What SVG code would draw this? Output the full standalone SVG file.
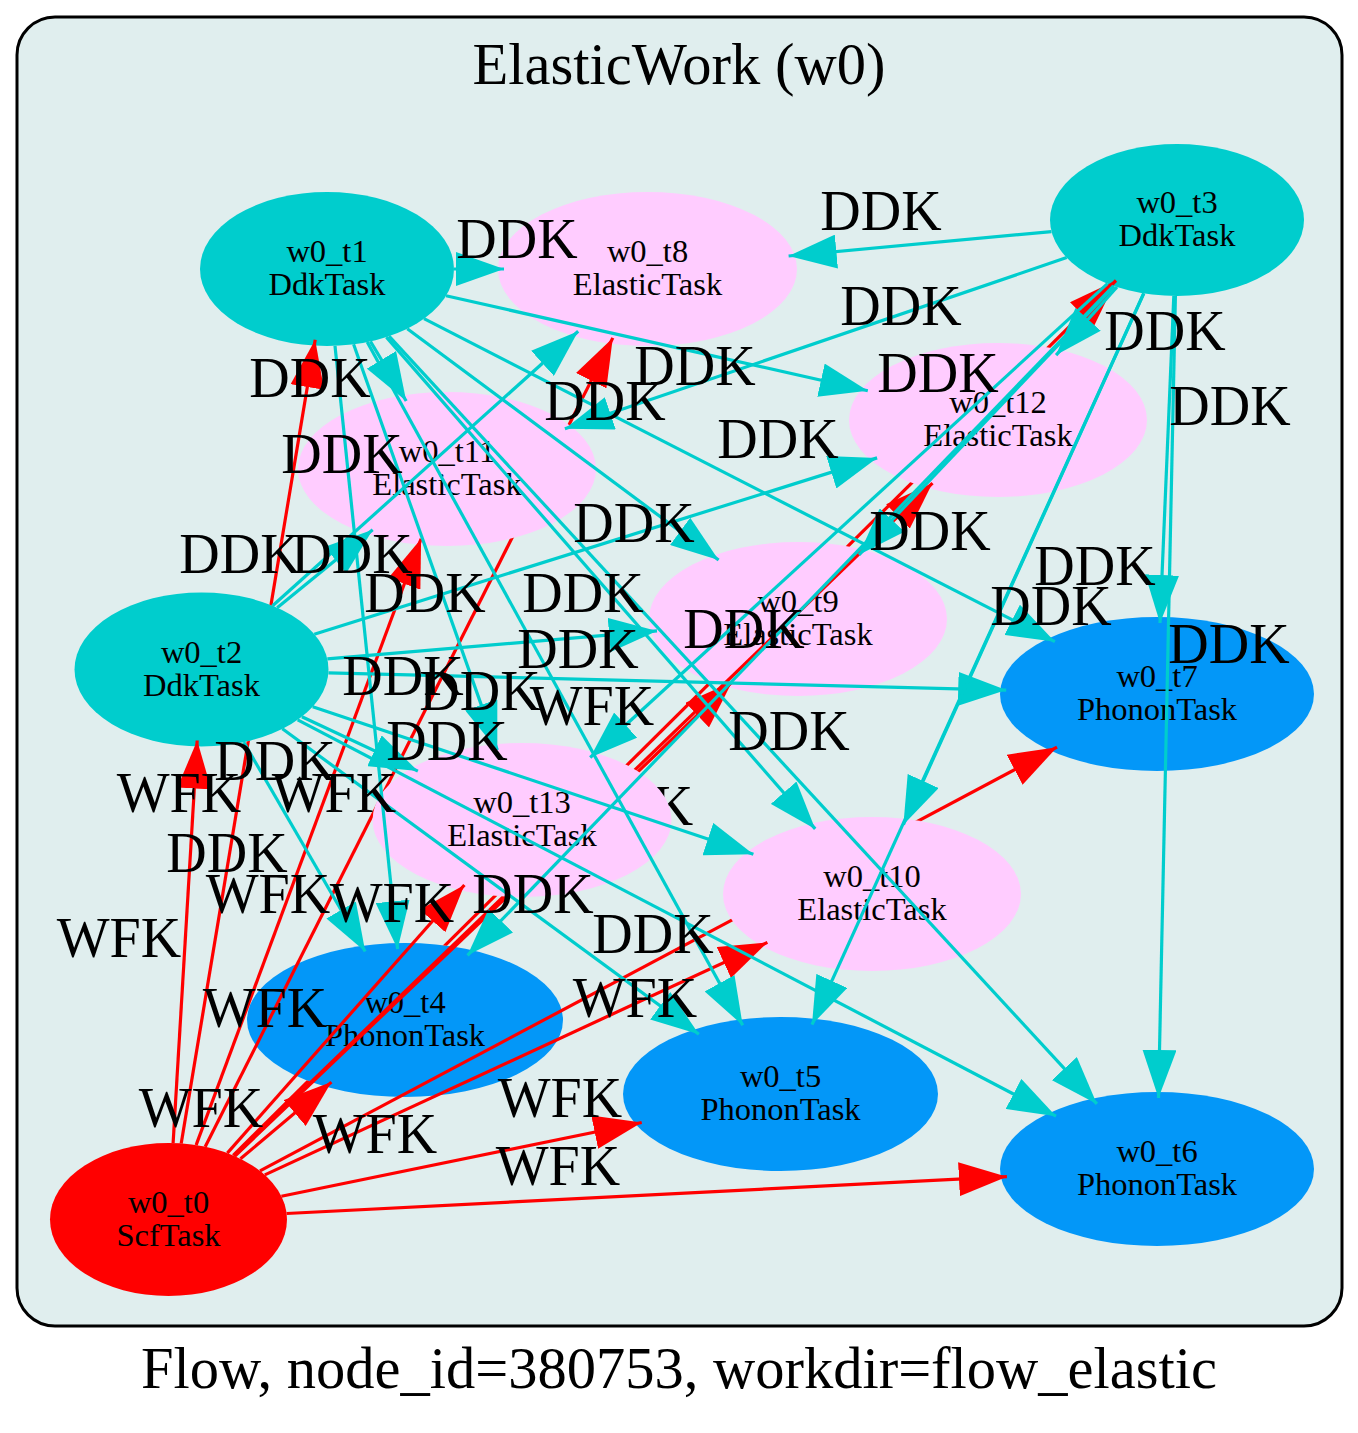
<svg xmlns="http://www.w3.org/2000/svg" width="1358" height="1433" viewBox="0 0 1358 1433">
<style>
.nt{font-family:"Liberation Serif","Times New Roman",serif;font-size:32.5px;text-anchor:middle;fill:#000}
.lb{font-family:"Liberation Serif","Times New Roman",serif;font-size:56px;text-anchor:middle;fill:#000}
.tt{font-family:"Liberation Serif","Times New Roman",serif;font-size:58.5px;text-anchor:middle;fill:#000}
.wfk line{stroke:#ff0000;stroke-width:3.2;marker-end:url(#ar)}
.ddk line{stroke:#00cdcd;stroke-width:3.2;marker-end:url(#ac)}
.ddkT{fill:#00cdcd}.phon{fill:#0397f8}.elas{fill:#ffccff}.scf{fill:#ff0000}
</style>
<defs>
<marker id="ar" viewBox="0 0 48 34" refX="48" refY="17" markerWidth="48" markerHeight="34" markerUnits="userSpaceOnUse" orient="auto"><path d="M0,0L48,17L0,34z" fill="#ff0000"/></marker>
<marker id="ac" viewBox="0 0 48 34" refX="48" refY="17" markerWidth="48" markerHeight="34" markerUnits="userSpaceOnUse" orient="auto"><path d="M0,0L48,17L0,34z" fill="#00cdcd"/></marker>
<g id="h13"><ellipse cx="522" cy="820" rx="149.5" ry="77"/></g>
<g id="h12"><ellipse cx="998" cy="420" rx="149" ry="77"/><use href="#h13"/></g>
<g id="h11"><ellipse cx="447" cy="469" rx="149" ry="77"/><use href="#h12"/></g>
<g id="h10"><ellipse cx="872" cy="894" rx="149" ry="77"/><use href="#h11"/></g>
<g id="h9"><ellipse cx="798" cy="619" rx="149" ry="77"/><use href="#h10"/></g>
<g id="h8"><ellipse cx="647.5" cy="269" rx="149.5" ry="77"/><use href="#h9"/></g>
<g id="h7"><ellipse cx="1157" cy="694" rx="157" ry="77"/><use href="#h8"/></g>
<g id="h6"><ellipse cx="1157" cy="1169" rx="157" ry="77"/><use href="#h7"/></g>
<g id="h5"><ellipse cx="780.5" cy="1094" rx="157.5" ry="77"/><use href="#h6"/></g>
<g id="h4"><ellipse cx="405" cy="1020" rx="158" ry="77"/><use href="#h5"/></g>
<g id="h3"><ellipse cx="1177" cy="220" rx="127" ry="76"/><use href="#h4"/></g>
<g id="h2"><ellipse cx="201.5" cy="669.5" rx="127" ry="77"/><use href="#h3"/></g>
<mask id="m2" maskUnits="userSpaceOnUse" x="0" y="0" width="1358" height="1433"><rect width="1358" height="1433" fill="#fff"/><use href="#h2" fill="#000"/></mask>
<mask id="m3" maskUnits="userSpaceOnUse" x="0" y="0" width="1358" height="1433"><rect width="1358" height="1433" fill="#fff"/><use href="#h3" fill="#000"/></mask>
<mask id="m4" maskUnits="userSpaceOnUse" x="0" y="0" width="1358" height="1433"><rect width="1358" height="1433" fill="#fff"/><use href="#h4" fill="#000"/></mask>
<mask id="m5" maskUnits="userSpaceOnUse" x="0" y="0" width="1358" height="1433"><rect width="1358" height="1433" fill="#fff"/><use href="#h5" fill="#000"/></mask>
<mask id="m6" maskUnits="userSpaceOnUse" x="0" y="0" width="1358" height="1433"><rect width="1358" height="1433" fill="#fff"/><use href="#h6" fill="#000"/></mask>
<mask id="m7" maskUnits="userSpaceOnUse" x="0" y="0" width="1358" height="1433"><rect width="1358" height="1433" fill="#fff"/><use href="#h7" fill="#000"/></mask>
<mask id="m8" maskUnits="userSpaceOnUse" x="0" y="0" width="1358" height="1433"><rect width="1358" height="1433" fill="#fff"/><use href="#h8" fill="#000"/></mask>
<mask id="m9" maskUnits="userSpaceOnUse" x="0" y="0" width="1358" height="1433"><rect width="1358" height="1433" fill="#fff"/><use href="#h9" fill="#000"/></mask>
<mask id="m10" maskUnits="userSpaceOnUse" x="0" y="0" width="1358" height="1433"><rect width="1358" height="1433" fill="#fff"/><use href="#h10" fill="#000"/></mask>
<mask id="m11" maskUnits="userSpaceOnUse" x="0" y="0" width="1358" height="1433"><rect width="1358" height="1433" fill="#fff"/><use href="#h11" fill="#000"/></mask>
<mask id="m12" maskUnits="userSpaceOnUse" x="0" y="0" width="1358" height="1433"><rect width="1358" height="1433" fill="#fff"/><use href="#h12" fill="#000"/></mask>
<mask id="m13" maskUnits="userSpaceOnUse" x="0" y="0" width="1358" height="1433"><rect width="1358" height="1433" fill="#fff"/><use href="#h13" fill="#000"/></mask>
</defs>
<rect width="1358" height="1433" fill="#fff"/>
<g id="cluster_w0">
<rect x="17" y="17" width="1325" height="1309" rx="38" ry="38" fill="#e0eeee" stroke="#000" stroke-width="3"/>
<text class="tt" x="679" y="84">ElasticWork (w0)</text>
</g>
<g id="w0_t0"><ellipse class="scf" cx="168.5" cy="1219.5" rx="118.5" ry="76.5"/><text class="nt" x="168.5" y="1212.5">w0_t0</text><text class="nt" x="168.5" y="1245.5">ScfTask</text></g>
<g id="w0_t1"><ellipse class="ddkT" cx="327" cy="269" rx="127" ry="77"/><text class="nt" x="327" y="262">w0_t1</text><text class="nt" x="327" y="295">DdkTask</text></g>
<g id="w0_t2"><ellipse class="ddkT" cx="201.5" cy="669.5" rx="127" ry="77"/><text class="nt" x="201.5" y="662.5">w0_t2</text><text class="nt" x="201.5" y="695.5">DdkTask</text></g>
<g id="w0_t3"><ellipse class="ddkT" cx="1177" cy="220" rx="127" ry="76"/><text class="nt" x="1177" y="213">w0_t3</text><text class="nt" x="1177" y="246">DdkTask</text></g>
<g id="w0_t4"><ellipse class="phon" cx="405" cy="1020" rx="158" ry="77"/><text class="nt" x="405" y="1013">w0_t4</text><text class="nt" x="405" y="1046">PhononTask</text></g>
<g id="w0_t5"><ellipse class="phon" cx="780.5" cy="1094" rx="157.5" ry="77"/><text class="nt" x="780.5" y="1087">w0_t5</text><text class="nt" x="780.5" y="1120">PhononTask</text></g>
<g id="w0_t6"><ellipse class="phon" cx="1157" cy="1169" rx="157" ry="77"/><text class="nt" x="1157" y="1162">w0_t6</text><text class="nt" x="1157" y="1195">PhononTask</text></g>
<g id="w0_t7"><ellipse class="phon" cx="1157" cy="694" rx="157" ry="77"/><text class="nt" x="1157" y="687">w0_t7</text><text class="nt" x="1157" y="720">PhononTask</text></g>
<g id="w0_t8"><ellipse class="elas" cx="647.5" cy="269" rx="149.5" ry="77"/><text class="nt" x="647.5" y="262">w0_t8</text><text class="nt" x="647.5" y="295">ElasticTask</text></g>
<g id="w0_t9"><ellipse class="elas" cx="798" cy="619" rx="149" ry="77"/><text class="nt" x="798" y="612">w0_t9</text><text class="nt" x="798" y="645">ElasticTask</text></g>
<g id="w0_t10"><ellipse class="elas" cx="872" cy="894" rx="149" ry="77"/><text class="nt" x="872" y="887">w0_t10</text><text class="nt" x="872" y="920">ElasticTask</text></g>
<g id="w0_t11"><ellipse class="elas" cx="447" cy="469" rx="149" ry="77"/><text class="nt" x="447" y="462">w0_t11</text><text class="nt" x="447" y="495">ElasticTask</text></g>
<g id="w0_t12"><ellipse class="elas" cx="998" cy="420" rx="149" ry="77"/><text class="nt" x="998" y="413">w0_t12</text><text class="nt" x="998" y="446">ElasticTask</text></g>
<g id="w0_t13"><ellipse class="elas" cx="522" cy="820" rx="149.5" ry="77"/><text class="nt" x="522" y="813">w0_t13</text><text class="nt" x="522" y="846">ElasticTask</text></g>
<g id="connectors">
<g class="wfk">
<line mask="url(#m2)" x1="181.2" y1="1143.4" x2="315.2" y2="339.7"/>
<line mask="url(#m3)" x1="173.1" y1="1143.1" x2="197.2" y2="740.5"/>
<line mask="url(#m4)" x1="233.2" y1="1155.4" x2="1116" y2="280.5"/>
<line mask="url(#m5)" x1="240.5" y1="1158.8" x2="331.4" y2="1082.1"/>
<line mask="url(#m6)" x1="281.4" y1="1196.3" x2="641.7" y2="1122.5"/>
<line mask="url(#m7)" x1="286.6" y1="1213.5" x2="1006.9" y2="1176.7"/>
<line mask="url(#m8)" x1="260" y1="1170.9" x2="1057" y2="747.2"/>
<line mask="url(#m9)" x1="205.2" y1="1146.8" x2="612.8" y2="337.9"/>
<line mask="url(#m10)" x1="234.9" y1="1156.1" x2="732" y2="682"/>
<line mask="url(#m11)" x1="264.8" y1="1174.9" x2="767.4" y2="942.4"/>
<line mask="url(#m12)" x1="196.1" y1="1145.1" x2="421.1" y2="538.8"/>
<line mask="url(#m13)" x1="234.4" y1="1155.9" x2="932.5" y2="483.1"/>
<line x1="227.3" y1="1153.1" x2="464.4" y2="885"/>
</g>
<g class="ddk">
<line x1="335" y1="345.9" x2="397.6" y2="949.1"/>
<line x1="367.2" y1="342" x2="742.7" y2="1025.3"/>
<line x1="389" y1="336.2" x2="1096.9" y2="1103.9"/>
<line x1="424" y1="318.7" x2="1054.9" y2="641.7"/>
<line x1="454" y1="269" x2="504" y2="269"/>
<line x1="407.3" y1="328.7" x2="718.6" y2="560"/>
<line x1="386.4" y1="337.1" x2="815.2" y2="828.9"/>
<line x1="370.4" y1="341.4" x2="406.2" y2="401"/>
<line x1="446" y1="295.8" x2="867.8" y2="390.7"/>
<line x1="353.6" y1="344.3" x2="497.3" y2="750.1"/>
<line x1="243.7" y1="742.1" x2="365.2" y2="951.5"/>
<line x1="282.4" y1="728.8" x2="698.9" y2="1034.2"/>
<line x1="297.7" y1="719.8" x2="1056" y2="1116.2"/>
<line x1="328.4" y1="672.8" x2="1006.2" y2="690.1"/>
<line x1="272.6" y1="605.7" x2="578.2" y2="331.2"/>
<line x1="327.3" y1="658.9" x2="657" y2="630.9"/>
<line x1="312.7" y1="706.7" x2="753.4" y2="854.3"/>
<line x1="277.2" y1="607.7" x2="372.7" y2="529.7"/>
<line x1="314.3" y1="634.2" x2="877.1" y2="457.9"/>
<line x1="301.9" y1="716.7" x2="417.9" y2="771.1"/>
<line x1="1113.5" y1="285.8" x2="467.5" y2="955.3"/>
<line x1="1143.7" y1="293.3" x2="812" y2="1024.6"/>
<line x1="1175.4" y1="296" x2="1158.5" y2="1098"/>
<line x1="1173.8" y1="296" x2="1160" y2="623"/>
<line x1="1051.5" y1="231.6" x2="788.6" y2="256"/>
<line x1="1114.2" y1="286.1" x2="859" y2="554.8"/>
<line x1="1143.8" y1="293.4" x2="903.4" y2="824.7"/>
<line x1="1066.7" y1="257.6" x2="564.9" y2="428.8"/>
<line x1="1117" y1="287" x2="1056.1" y2="355.1"/>
<line x1="1107.5" y1="283.6" x2="590.2" y2="757.5"/>
</g>
<g class="wfk-labels">
<text class="lb" x="631" y="825" mask="url(#m13)">WFK</text>
<text class="lb" x="592" y="725">WFK</text>
<text class="lb" x="179" y="812">WFK</text>
<text class="lb" x="334" y="812">WFK</text>
<text class="lb" x="268" y="913">WFK</text>
<text class="lb" x="392" y="922">WFK</text>
<text class="lb" x="119" y="957">WFK</text>
<text class="lb" x="265" y="1027">WFK</text>
<text class="lb" x="635" y="1017">WFK</text>
<text class="lb" x="201" y="1127">WFK</text>
<text class="lb" x="375" y="1153">WFK</text>
<text class="lb" x="560" y="1117">WFK</text>
<text class="lb" x="558" y="1185">WFK</text>
</g>
<g class="ddk-labels">
<text class="lb" x="881" y="230">DDK</text>
<text class="lb" x="517" y="258">DDK</text>
<text class="lb" x="901" y="325">DDK</text>
<text class="lb" x="1165" y="350">DDK</text>
<text class="lb" x="310" y="397">DDK</text>
<text class="lb" x="695" y="385">DDK</text>
<text class="lb" x="938" y="392">DDK</text>
<text class="lb" x="605" y="420">DDK</text>
<text class="lb" x="1230" y="425">DDK</text>
<text class="lb" x="342" y="473">DDK</text>
<text class="lb" x="778" y="458">DDK</text>
<text class="lb" x="634" y="542">DDK</text>
<text class="lb" x="930" y="550">DDK</text>
<text class="lb" x="240" y="573">DDK</text>
<text class="lb" x="352" y="573">DDK</text>
<text class="lb" x="425" y="612">DDK</text>
<text class="lb" x="583" y="612">DDK</text>
<text class="lb" x="1095" y="585">DDK</text>
<text class="lb" x="1051" y="625">DDK</text>
<text class="lb" x="1229" y="663">DDK</text>
<text class="lb" x="744" y="648">DDK</text>
<text class="lb" x="578" y="668">DDK</text>
<text class="lb" x="403" y="695">DDK</text>
<text class="lb" x="480" y="710">DDK</text>
<text class="lb" x="447" y="760">DDK</text>
<text class="lb" x="789" y="750">DDK</text>
<text class="lb" x="275" y="780">DDK</text>
<text class="lb" x="227" y="872">DDK</text>
<text class="lb" x="533" y="913">DDK</text>
<text class="lb" x="653" y="953">DDK</text>
</g>
</g>
<text class="tt" x="679" y="1388">Flow, node_id=380753, workdir=flow_elastic</text>
</svg>
